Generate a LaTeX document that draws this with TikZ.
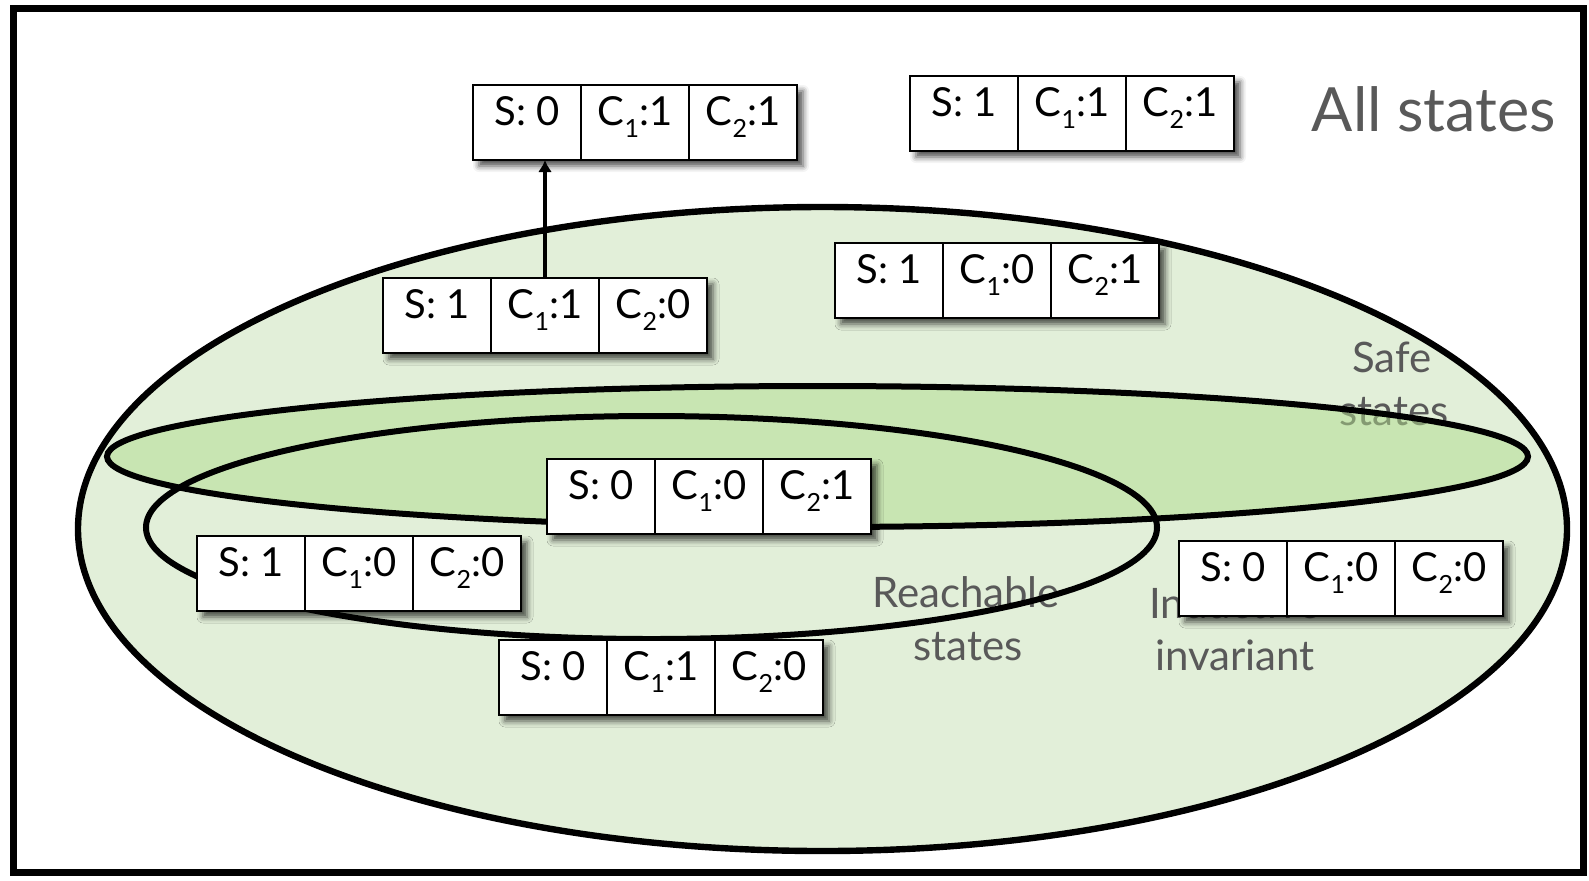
\documentclass[tikz,border=0pt]{standalone}
\usepackage{fontspec}
\setmainfont{Lato}
\usetikzlibrary{arrows.meta,shadows.blur}
\definecolor{allgreen}{RGB}{226,239,217}
\definecolor{safegreen}{RGB}{176,220,140}
\definecolor{labelgray}{RGB}{89,89,89}
% subscript index of a counter
\newcommand{\cidx}[1]{\raisebox{-6pt}{\fontsize{12.5}{12.5}\selectfont #1}}
% state box: name, north west corner, S, C1, C2
\newcommand{\statebox}[5]{%
  \node[stateback,anchor=north west] (#1) at (#2) {};
  \node[statecell,anchor=north west] (#1-s) at (#1.north west) {S: #3};
  \node[statecell,anchor=north west] (#1-c1) at (#1-s.north east) {C\cidx{1}:#4};
  \node[statecell,anchor=north west] (#1-c2) at (#1-c1.north east) {C\cidx{2}:#5};}

\begin{document}
\begin{tikzpicture}[x=0.5pt,y=-0.5pt,
    stateback/.style={fill=white,minimum width=162pt,minimum height=37.5pt,inner sep=0pt,outer sep=0pt,
      blur shadow={shadow xshift=3pt,shadow yshift=-3pt,shadow blur radius=3pt,shadow opacity=70}},
    statecell/.style={draw,line width=1pt,minimum width=54pt,minimum height=37.5pt,inner sep=0pt,outer sep=0pt,
      text height=12pt,text depth=9.5pt,font=\fontsize{20}{22}\selectfont},
    setlabel/.style={labelgray,font=\fontsize{21}{24}\selectfont,anchor=base}]
	\useasboundingbox (0,0) rectangle (1589,880);
	% border
	\draw[line width=3.5pt] (13.5,8.5) rectangle (1583.5,872);
	% all states / inductive invariant
	\draw[fill=allgreen,line width=3.2pt] (822.5,529) ellipse [x radius=744.5,y radius=322];
	\node[labelgray,font=\fontsize{30.5}{36}\selectfont,anchor=base] (alllbl) at (1434,131) {All states};
	% set labels
	\node[setlabel] (safe1)  at (1392,372) {Safe};
	\node[setlabel] (safe2)  at (1394,425) {states};
	\node[setlabel] (reach1) at (966,607)  {Reachable};
	\node[setlabel] (reach2) at (968,660)  {states};
	\node[setlabel] (ind1)   at (1235,618) {Inductive};
	\node[setlabel] (ind2)   at (1235,670) {invariant};
	% safe states
	\draw[fill=safegreen,fill opacity=0.5,line width=3pt] (817.5,456.5) ellipse [x radius=710.5,y radius=70.5];
	% reachable states
	\draw[line width=3pt] (651.5,527.5) ellipse [x radius=505.5,y radius=111.5];
	% states
	\statebox{st011}{473,85}{0}{1}{1}
	\statebox{st111}{910,76}{1}{1}{1}
	\statebox{st110}{383,278}{1}{1}{0}
	\statebox{st101}{835,243}{1}{0}{1}
	\statebox{st001}{547,459}{0}{0}{1}
	\statebox{st100}{197,536}{1}{0}{0}
	\statebox{st000}{1179,541}{0}{0}{0}
	\statebox{st010}{499,640}{0}{1}{0}
	% transition leaving the safe states
	\draw[line width=2.4pt,-{Latex[length=6pt,width=7pt]}] (st110-c1.north) -- (st110-c1.north |- st011.south);
\end{tikzpicture}
\end{document}
